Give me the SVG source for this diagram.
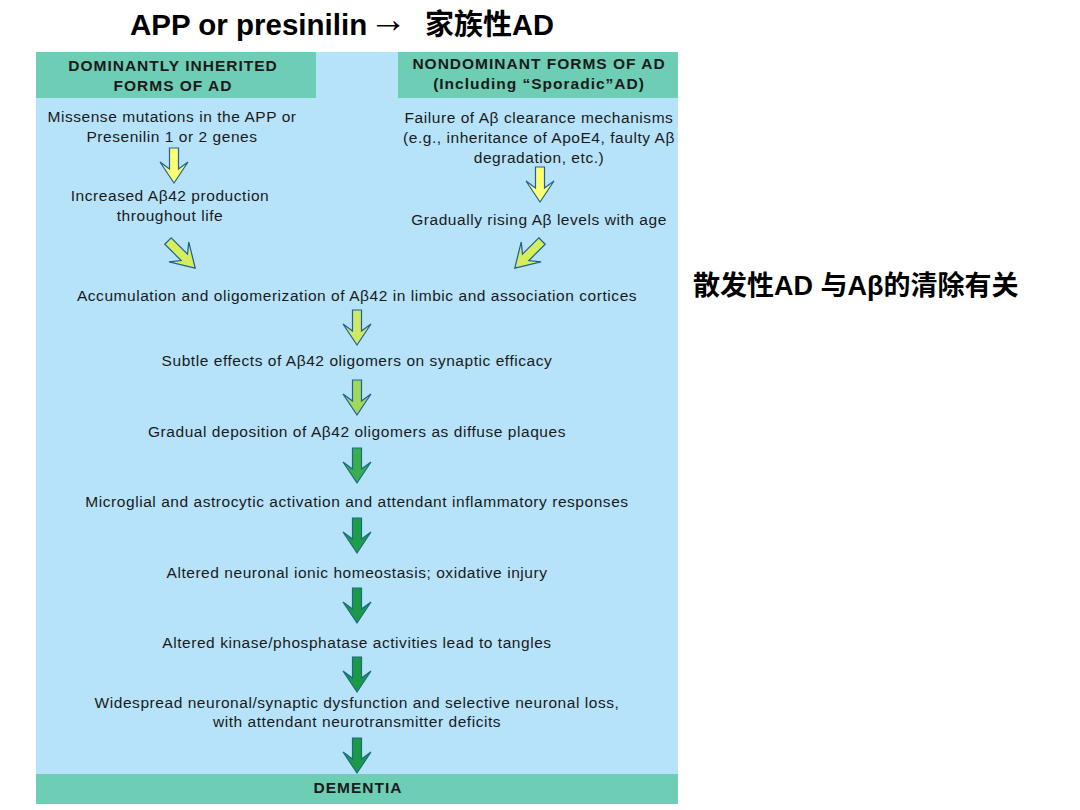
<svg xmlns="http://www.w3.org/2000/svg" width="1080" height="810" viewBox="0 0 1080 810">
<style>
.t{font-family:"Liberation Sans",Arial,sans-serif;font-size:15.5px;letter-spacing:0.55px;fill:#1a1a1a;text-anchor:middle}
.h{font-family:"Liberation Sans",Arial,sans-serif;font-size:15.5px;letter-spacing:1px;font-weight:bold;fill:#1a1a1a;text-anchor:middle}
.big{font-family:"Liberation Sans",Arial,"Noto Sans CJK SC",sans-serif;font-weight:bold;fill:#000}
.arr{stroke:#1f5f9f;stroke-width:1.2;stroke-linejoin:miter}
.arrg{stroke:#1a6a80;stroke-width:1.2;stroke-linejoin:miter}
</style>
<defs>
<path id="a" d="M-4.5,0 L4.5,0 L4.5,21 L14,14 L0,35 L-14,14 L-4.5,21 Z"/>
</defs>
<rect width="1080" height="810" fill="#ffffff"/>
<g id="title"><text class="big" x="130" y="35" font-size="29.5">APP or presinilin<tspan x="369" y="32" font-weight="normal" font-size="38">→</tspan><tspan x="425" y="35" font-size="29">家族性AD</tspan></text></g>
<g id="side-note"><text class="big" x="693" y="295" font-size="27">散发性AD 与Aβ的清除有关</text></g>
<g id="panel">
<rect x="36" y="52" width="642" height="752" fill="#b6e3f9"/>
<rect x="36" y="52" width="280" height="46" fill="#6ecdb5"/>
<rect x="398" y="52" width="280" height="46" fill="#6ecdb5"/>
<rect x="36" y="774" width="642" height="30" fill="#6ecdb5"/>
</g>
<g id="header-dominant"><text class="h" x="173" y="71">DOMINANTLY INHERITED</text><text class="h" x="173" y="91">FORMS OF AD</text></g>
<g id="header-nondominant"><text class="h" x="539" y="69">NONDOMINANT FORMS OF AD</text><text class="h" x="539" y="89">(Including “Sporadic”AD)</text></g>
<g id="n-missense"><text class="t" x="172" y="122">Missense mutations in the APP or</text><text class="t" x="172" y="142">Presenilin 1 or 2 genes</text></g>
<g id="n-increased"><text class="t" x="170" y="201">Increased Aβ42 production</text><text class="t" x="170" y="221">throughout life</text></g>
<g id="n-failure"><text class="t" x="539" y="123">Failure of Aβ clearance mechanisms</text><text class="t" x="539" y="143">(e.g., inheritance of ApoE4, faulty Aβ</text><text class="t" x="539" y="163">degradation, etc.)</text></g>
<g id="n-rising"><text class="t" x="539" y="225">Gradually rising Aβ levels with age</text></g>
<g id="n-accum"><text class="t" x="357" y="301">Accumulation and oligomerization of Aβ42 in limbic and association cortices</text></g>
<g id="n-subtle"><text class="t" x="357" y="366">Subtle effects of Aβ42 oligomers on synaptic efficacy</text></g>
<g id="n-deposition"><text class="t" x="357" y="437">Gradual deposition of Aβ42 oligomers as diffuse plaques</text></g>
<g id="n-microglial"><text class="t" x="357" y="507">Microglial and astrocytic activation and attendant inflammatory responses</text></g>
<g id="n-ionic"><text class="t" x="357" y="578">Altered neuronal ionic homeostasis; oxidative injury</text></g>
<g id="n-kinase"><text class="t" x="357" y="648">Altered kinase/phosphatase activities lead to tangles</text></g>
<g id="n-widespread"><text class="t" x="357" y="708">Widespread neuronal/synaptic dysfunction and selective neuronal loss,</text><text class="t" x="357" y="727">with attendant neurotransmitter deficits</text></g>
<g id="n-dementia"><text class="h" x="358" y="793">DEMENTIA</text></g>
<g id="connectors">
<use href="#a" class="arr" fill="#ffff72" transform="translate(174,148)"/>
<use href="#a" class="arr" fill="#ffff72" transform="translate(540,167)"/>
<use href="#a" class="arr" fill="#d6ee5c" transform="translate(168,241) rotate(-45) scale(1,1.1)"/>
<use href="#a" class="arr" fill="#d6ee5c" transform="translate(542,241) rotate(45) scale(1,1.1)"/>
<use href="#a" class="arr" fill="#cfea62" transform="translate(357,310)"/>
<use href="#a" class="arr" fill="#a0d85a" transform="translate(357,380)"/>
<use href="#a" class="arrg" fill="#3aae4e" transform="translate(357,448)"/>
<use href="#a" class="arrg" fill="#1e9e48" transform="translate(357,518)"/>
<use href="#a" class="arrg" fill="#1a9a46" transform="translate(357,588)"/>
<use href="#a" class="arrg" fill="#1a9a46" transform="translate(357,657)"/>
<use href="#a" class="arrg" fill="#1a9a46" transform="translate(357,738)"/>
</g>
</svg>
